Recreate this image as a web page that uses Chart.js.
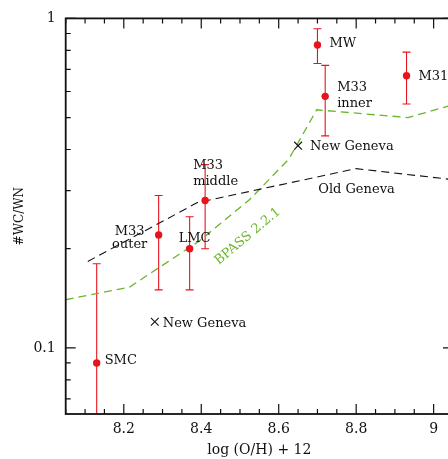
<!DOCTYPE html>
<html>
<head>
<meta charset="utf-8">
<script src="https://cdn.jsdelivr.net/npm/chart.js@4.4.1/dist/chart.umd.min.js"></script>
<style>
    html, body { margin: 0; padding: 0; background: #fff; overflow: hidden; }
    #wrap { width: 460px; height: 459px; }
</style>
</head>
<body>
<div id="wrap"><canvas id="wcwn"></canvas></div>
<script>
// Observed WC/WN ratios with error bars
const galaxies = ['SMC', 'M33 outer', 'LMC', 'M33 middle', 'MW', 'M33 inner', 'M31'];
const ohObs = [8.13, 8.29, 8.37, 8.41, 8.70, 8.72, 8.93];
const ratioObs = [0.090, 0.220, 0.200, 0.280, 0.830, 0.580, 0.670];
const ratioLow = [0.040, 0.150, 0.150, 0.200, 0.730, 0.440, 0.550];
const ratioHigh = [0.180, 0.290, 0.250, 0.360, 0.930, 0.720, 0.790];

// Model predictions
const newGenevaOH = [8.28, 8.65];
const newGenevaRatio = [0.120, 0.411];
const oldGenevaOH = [8.107, 8.39, 8.80, 9.05];
const oldGenevaRatio = [0.183, 0.276, 0.350, 0.324];
const bpassOH = [8.05, 8.215, 8.395, 8.525, 8.626, 8.698, 8.934, 9.05];
const bpassRatio = [0.140, 0.153, 0.211, 0.282, 0.374, 0.528, 0.500, 0.547];

// Tick positions and labels
const xTicks = [8.05, 8.1, 8.15, 8.2, 8.25, 8.3, 8.35, 8.4, 8.45, 8.5, 8.55,
                8.6, 8.65, 8.7, 8.75, 8.8, 8.85, 8.9, 8.95, 9, 9.05];
const xLabels = [8.2, 8.4, 8.6, 8.8, 9];
const yTicks = [0.07, 0.08, 0.09, 0.1, 0.2, 0.3, 0.4, 0.5, 0.6, 0.7, 0.8, 0.9, 1];
const yLabels = [0.1, 1];

const RED = '#e8141c';
const GREEN = '#6bb52b';
const FONT = 'DejaVu Serif';

const toXY = (xs, ys) => xs.map((x, i) => ({ x: x, y: ys[i] }));

// label placement relative to each marker (px)
const obsLabelOffsets = [
    { dx: 8, dy: [-2], align: 'left' },
    { dx: -29, dy: [-3, 10], align: 'center' },
    { dx: -11, dy: [-10], align: 'left' },
    { dx: -12, dy: [-35, -19], align: 'left' },
    { dx: 12, dy: [-1], align: 'left' },
    { dx: 12, dy: [-9, 7], align: 'left' },
    { dx: 12, dy: [1], align: 'left' }
];

// Error bars, drawn under the points
const errorBars = {
    id: 'errorBars',
    beforeDatasetsDraw(chart) {
        const { ctx, chartArea: a, scales: { x, y } } = chart;
        ctx.save();
        ctx.beginPath();
        ctx.rect(a.left, a.top, a.right - a.left, a.bottom - a.top);
        ctx.clip();
        ctx.strokeStyle = RED;
        ctx.lineWidth = 1.1;
        ohObs.forEach((oh, i) => {
            const px = x.getPixelForValue(oh);
            const top = y.getPixelForValue(ratioHigh[i]);
            const bot = y.getPixelForValue(ratioLow[i]);
            ctx.beginPath();
            ctx.moveTo(px, top);
            ctx.lineTo(px, bot);
            ctx.moveTo(px - 4, top);
            ctx.lineTo(px + 4, top);
            ctx.moveTo(px - 4, bot);
            ctx.lineTo(px + 4, bot);
            ctx.stroke();
        });
        ctx.restore();
    }
};

// Box frame with inward ticks on all four sides
const frameTicks = {
    id: 'frameTicks',
    afterDatasetsDraw(chart) {
        const { ctx, chartArea: a, scales: { x, y } } = chart;
        ctx.save();
        ctx.strokeStyle = '#111';
        ctx.lineWidth = 1.2;
        ctx.beginPath();
        xTicks.forEach(v => {
            const px = x.getPixelForValue(v);
            const len = xLabels.includes(v) ? 10 : 5;
            ctx.moveTo(px, a.bottom);
            ctx.lineTo(px, a.bottom - len);
            ctx.moveTo(px, a.top);
            ctx.lineTo(px, a.top + len);
        });
        yTicks.forEach(v => {
            const py = y.getPixelForValue(v);
            const len = yLabels.includes(v) ? 10 : 5;
            ctx.moveTo(a.left, py);
            ctx.lineTo(a.left + len, py);
            ctx.moveTo(a.right, py);
            ctx.lineTo(a.right - len, py);
        });
        ctx.stroke();
        ctx.lineWidth = 1.8;
        ctx.strokeRect(a.left, a.top, a.right - a.left, a.bottom - a.top);
        ctx.restore();
    }
};

// Text annotations
const annotations = {
    id: 'annotations',
    afterDraw(chart) {
        const { ctx, scales: { x, y } } = chart;
        ctx.save();
        ctx.font = '13px "' + FONT + '"';
        ctx.fillStyle = '#111';
        ctx.textBaseline = 'middle';

        galaxies.forEach((name, i) => {
            const o = obsLabelOffsets[i];
            const px = x.getPixelForValue(ohObs[i]);
            const py = y.getPixelForValue(ratioObs[i]);
            ctx.textAlign = o.align;
            name.split(' ').forEach((line, k) => {
                ctx.fillText(line, px + o.dx, py + o.dy[k]);
            });
        });

        ctx.textAlign = 'left';
        ctx.fillText('New Geneva', x.getPixelForValue(newGenevaOH[0]) + 8, y.getPixelForValue(newGenevaRatio[0]) + 2);
        ctx.fillText('New Geneva', x.getPixelForValue(newGenevaOH[1]) + 12, y.getPixelForValue(newGenevaRatio[1]) + 1);
        ctx.fillText('Old Geneva', x.getPixelForValue(8.702), y.getPixelForValue(0.303));

        ctx.save();
        ctx.translate(x.getPixelForValue(8.52), y.getPixelForValue(0.218));
        ctx.rotate(-40 * Math.PI / 180);
        ctx.textAlign = 'center';
        ctx.fillStyle = GREEN;
        ctx.fillText('BPASS 2.2.1', 0, 0);
        ctx.restore();

        ctx.restore();
    }
};

new Chart(document.getElementById('wcwn'), {
    type: 'scatter',
    data: {
        datasets: [
            {
                label: 'Observed',
                data: toXY(ohObs, ratioObs),
                pointRadius: 3.7,
                pointBackgroundColor: RED,
                pointBorderColor: RED,
                pointBorderWidth: 0
            },
            {
                label: 'New Geneva',
                data: toXY(newGenevaOH, newGenevaRatio),
                pointStyle: 'crossRot',
                pointRadius: 5.5,
                pointBorderColor: '#111',
                pointBorderWidth: 1.1
            },
            {
                label: 'Old Geneva',
                type: 'line',
                data: toXY(oldGenevaOH, oldGenevaRatio),
                borderColor: '#111',
                borderWidth: 1.1,
                borderDash: [8, 5],
                pointRadius: 0,
                fill: false,
                tension: 0
            },
            {
                label: 'BPASS 2.2.1',
                type: 'line',
                data: toXY(bpassOH, bpassRatio),
                borderColor: GREEN,
                borderWidth: 1.3,
                borderDash: [8, 5],
                pointRadius: 0,
                fill: false,
                tension: 0
            }
        ]
    },
    options: {
        responsive: true,
        maintainAspectRatio: false,
        animation: false,
        devicePixelRatio: 1,
        layout: { padding: { top: 14.7, right: 4.8, left: 0, bottom: 0 } },
        plugins: {
            legend: { display: false },
            tooltip: { enabled: false }
        },
        scales: {
            x: {
                type: 'linear',
                min: 8.05,
                max: 9.05,
                afterBuildTicks: s => { s.ticks = xTicks.map(v => ({ value: v })); },
                afterFit: s => { s.height = 45; },
                grid: { display: false, drawTicks: false },
                border: { display: false },
                ticks: {
                    autoSkip: false,
                    maxRotation: 0,
                    padding: 7,
                    color: '#111',
                    font: { family: FONT, size: 14 },
                    callback: v => xLabels.includes(v) ? String(v) : ''
                },
                title: {
                    display: true,
                    text: 'log (O/H) + 12',
                    color: '#111',
                    font: { family: FONT, size: 14 },
                    padding: { top: 0, bottom: 0.6 }
                }
            },
            y: {
                type: 'logarithmic',
                min: 0.063,
                max: 1,
                afterBuildTicks: s => { s.ticks = yTicks.map(v => ({ value: v })); },
                afterFit: s => { s.width = 65.7; },
                grid: { display: false, drawTicks: false },
                border: { display: false },
                ticks: {
                    autoSkip: false,
                    padding: 10,
                    color: '#111',
                    font: { family: FONT, size: 14 },
                    callback: v => yLabels.includes(v) ? String(v) : ''
                },
                title: {
                    display: true,
                    text: '#WC/WN',
                    color: '#111',
                    font: { family: FONT, size: 12 },
                    padding: { top: 12.8, bottom: 0 }
                }
            }
        }
    },
    plugins: [errorBars, frameTicks, annotations]
});
</script>
</body>
</html>
